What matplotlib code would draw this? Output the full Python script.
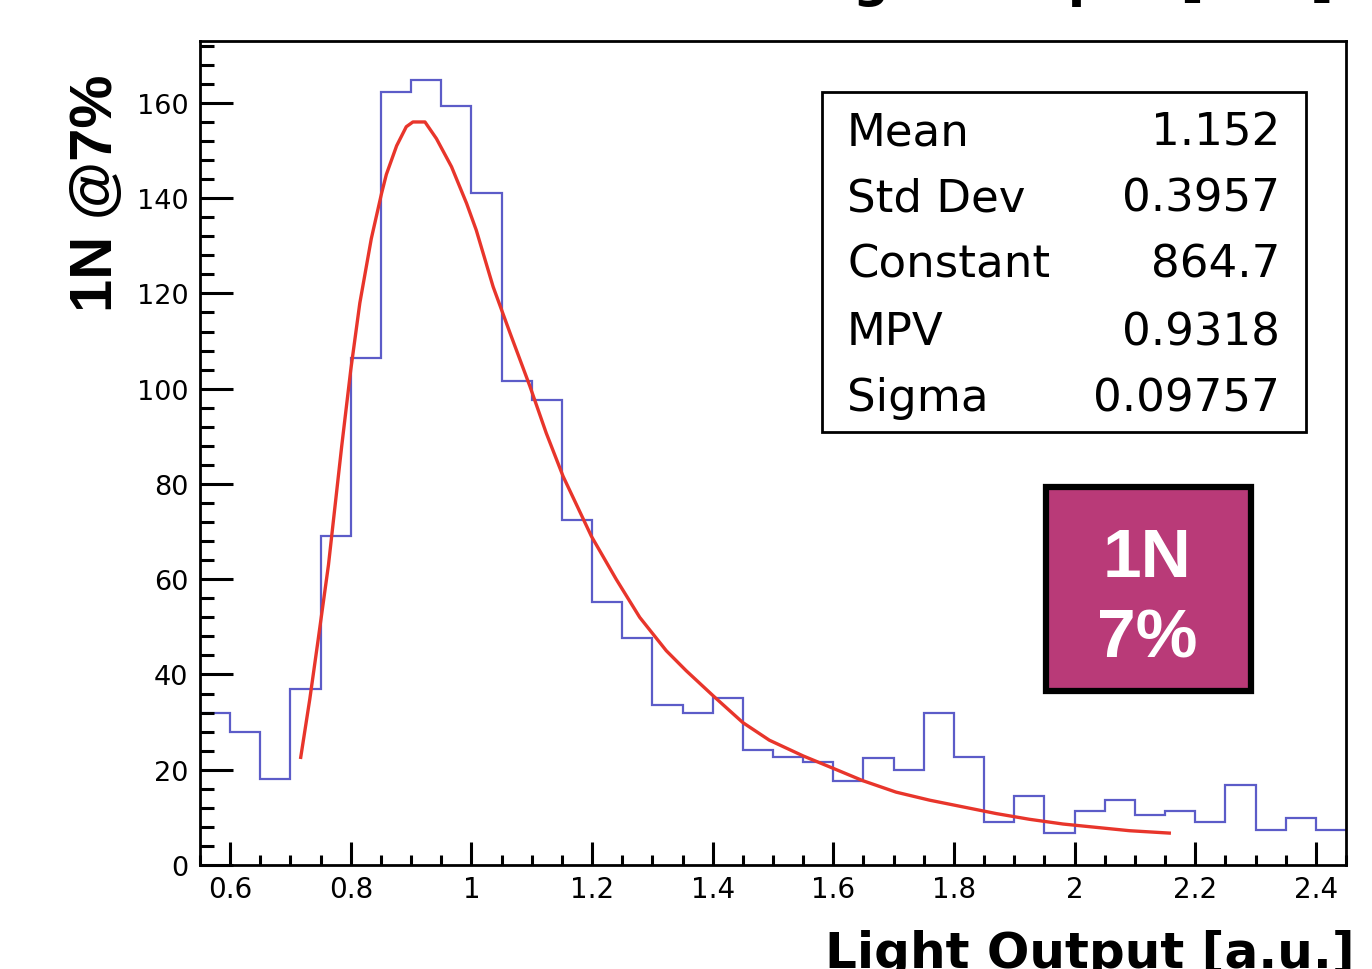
import matplotlib
matplotlib.use("Agg")
import matplotlib.pyplot as plt
from matplotlib.patches import Rectangle
from matplotlib.ticker import MultipleLocator, FixedLocator, FixedFormatter

# ---------------- data ----------------
bin_start = 0.55
bin_width = 0.05
counts = [32, 28, 18, 37, 69, 106.5, 162.3, 164.8, 159.3, 141, 101.7, 97.7,
          72.5, 55.3, 47.6, 33.5, 32, 35, 24.1, 22.6, 21.6, 17.6, 22.4, 20,
          32, 22.6, 9, 14.5, 6.7, 11.3, 13.7, 10.6, 11.3, 9, 16.8, 7.4, 9.8, 7.4]

fit_x = [0.717, 0.732, 0.746, 0.763, 0.785, 0.800, 0.815, 0.834, 0.851, 0.859,
         0.876, 0.892, 0.903, 0.923, 0.942, 0.967, 0.992, 1.008, 1.036, 1.064,
         1.097, 1.124, 1.152, 1.199, 1.240, 1.279, 1.323, 1.356, 1.401, 1.450,
         1.494, 1.550, 1.594, 1.649, 1.704, 1.760, 1.815, 1.870, 1.925, 1.981,
         2.036, 2.091, 2.157]
fit_y = [22.6, 34.8, 47.4, 63.0, 88.0, 104.0, 118.0, 131.5, 141.0, 145.0,
         151.0, 155.0, 156.0, 156.0, 152.5, 146.6, 138.9, 133.3, 121.4, 111.7,
         100.5, 90.7, 81.6, 69.0, 60.0, 52.0, 45.0, 40.8, 35.5, 29.9,
         26.2, 22.9, 20.6, 17.7, 15.3, 13.6, 12.2, 10.8, 9.6, 8.6,
         7.9, 7.2, 6.7]

xticks = [0.6, 0.8, 1.0, 1.2, 1.4, 1.6, 1.8, 2.0, 2.2, 2.4]
xtick_labels = ["0.6", "0.8", "1", "1.2", "1.4", "1.6", "1.8", "2", "2.2", "2.4"]
yticks = [0, 20, 40, 60, 80, 100, 120, 140, 160]
ytick_labels = ["0", "20", "40", "60", "80", "100", "120", "140", "160"]

stat_names = ["Mean", "Std Dev", "Constant", "MPV", "Sigma"]
stat_values = ["1.152", "0.3957", "864.7", "0.9318", "0.09757"]

x_label = "Light Output [a.u.]"
y_label = "1N @7%"
badge_text = ["1N", "7%"]

# ---------------- figure ----------------
plt.rcParams["font.family"] = ["DejaVu Sans"]
W, H = 1372, 970
fig = plt.figure(figsize=(W / 100, H / 100), dpi=100)


def fx(px):
    return px / W


def fy(py):
    return 1 - py / H


ax = fig.add_axes([fx(200), fy(866), (1346 - 200) / W, (866 - 42) / H])

edges = [bin_start + i * bin_width for i in range(len(counts) + 1)]
ax.stairs(counts, edges, baseline=None, color="#5c5cc8", linewidth=1.6)
ax.plot(fit_x, fit_y, color="#e8352b", linewidth=2.4, solid_joinstyle="round")

ax.set_xlim(0.55, 2.45)
ax.set_ylim(0, 173)

ax.xaxis.set_major_locator(FixedLocator(xticks))
ax.xaxis.set_major_formatter(FixedFormatter(xtick_labels))
ax.xaxis.set_minor_locator(MultipleLocator(0.05))
ax.yaxis.set_major_locator(FixedLocator(yticks))
ax.yaxis.set_major_formatter(FixedFormatter(ytick_labels))
ax.yaxis.set_minor_locator(MultipleLocator(4))

ax.tick_params(axis="x", which="major", direction="in", length=16.5, width=2.2,
               labelsize=20, pad=7)
ax.tick_params(axis="x", which="minor", direction="in", length=7.5, width=2.2)
ax.tick_params(axis="y", which="major", direction="in", length=23.5, width=2.2,
               labelsize=19.5, pad=8.5)
ax.tick_params(axis="y", which="minor", direction="in", length=10, width=2.2)
ax.tick_params(top=False, right=False, which="both")
for s in ax.spines.values():
    s.set_linewidth(2.0)
    s.set_color("black")

# y label
fig.text(fx(97), fy(193), y_label, rotation=90, ha="center", va="center",
         fontsize=43, fontweight="bold", family=["Liberation Sans", "DejaVu Sans"])

# x label (cut off at bottom, as in the reference)
fig.text(fx(1355), fy(968), x_label, ha="right", va="baseline",
         fontsize=36, fontweight="bold")
# cut-off label of the panel above (only descenders visible)
fig.text(fx(1334), fy(-3), x_label, ha="right", va="baseline",
         fontsize=36, fontweight="bold")

# stat box
fig.add_artist(Rectangle((fx(822), fy(433)), (1306 - 822) / W, (433 - 93) / H,
                         transform=fig.transFigure, facecolor="white",
                         edgecolor="black", linewidth=2.0, zorder=5))
baselines = [145, 212, 278, 345, 411]
for name, val, b in zip(stat_names, stat_values, baselines):
    fig.text(fx(847), fy(b), name, ha="left", va="baseline", fontsize=32.5, zorder=6)
    fig.text(fx(1280), fy(b), val, ha="right", va="baseline", fontsize=32.5, zorder=6)

# badge
fig.add_artist(Rectangle((fx(1046), fy(692)), (1251 - 1046) / W, (692 - 488) / H,
                         transform=fig.transFigure, facecolor="#b93a78",
                         edgecolor="black", linewidth=4.5, zorder=5))
fig.text(fx(1147), fy(577), badge_text[0], ha="center", va="baseline", color="white",
         fontsize=50, fontweight="bold", family=["Liberation Sans", "DejaVu Sans"], zorder=6)
fig.text(fx(1147), fy(657), badge_text[1], ha="center", va="baseline", color="white",
         fontsize=50, fontweight="bold", family=["Liberation Sans", "DejaVu Sans"], zorder=6)

fig.savefig("out.png", dpi=100)
